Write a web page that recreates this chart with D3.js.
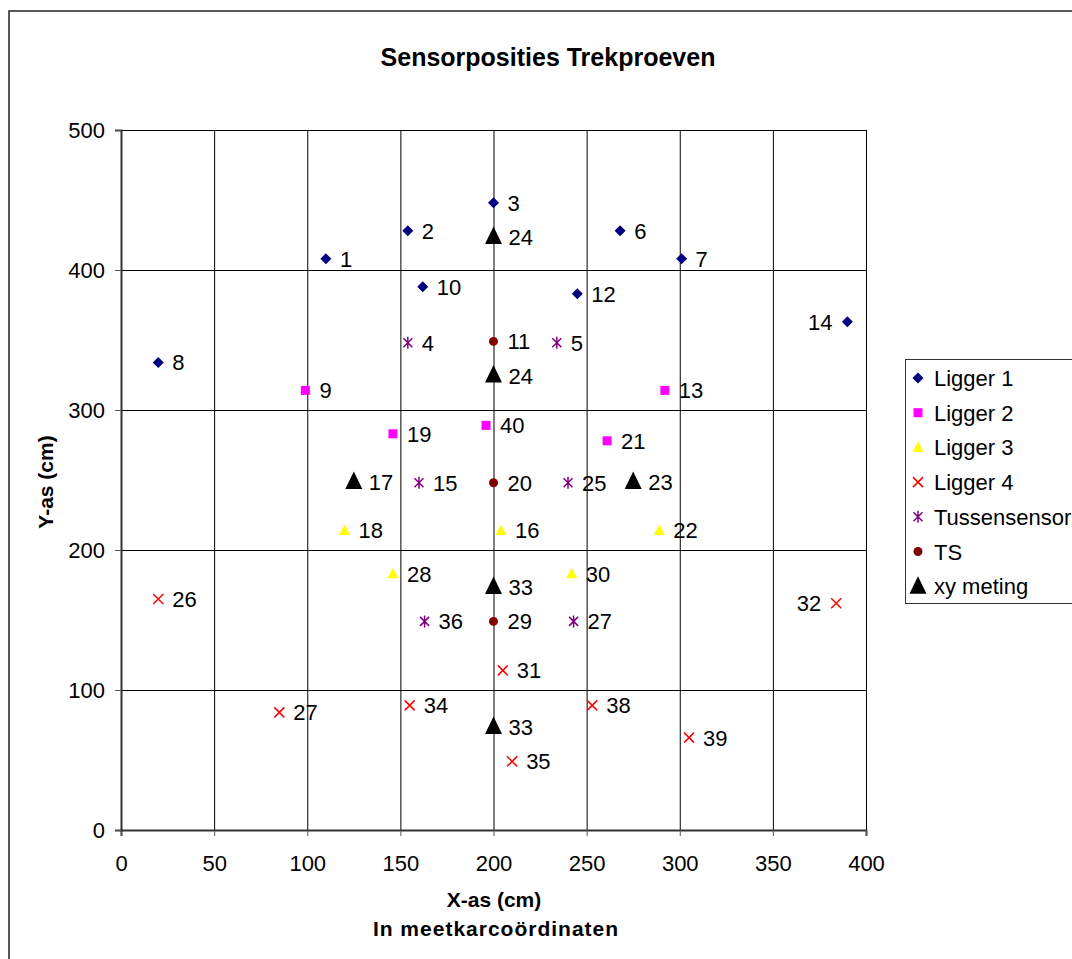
<!DOCTYPE html>
<html>
<head>
<meta charset="utf-8">
<script src="https://cdn.jsdelivr.net/npm/d3@7"></script>
<style>
  body { margin: 0; background: #fff; }
  svg { display: block; font-family: "Liberation Sans", Arial, sans-serif; }
</style>
</head>
<body>
<div id="chart"></div>
<script>
// Sensor positions per series: [x, y, label]
const ligger1 = [[110, 408, '1'], [154, 428, '2'], [200, 448, '3'], [268, 428, '6'], [301, 408, '7'],
                 [162, 388, '10'], [245, 383, '12'], [390, 363, '14'], [20, 334, '8']];
const ligger2 = [[99, 314, '9'], [292, 314, '13'], [146, 283, '19'], [196, 289, '40'], [261, 278, '21']];
const ligger3 = [[120, 214, '18'], [204, 214, '16'], [289, 214, '22'], [146, 183, '28'], [242, 183, '30']];
const ligger4 = [[20, 165, '26'], [384, 162, '32'], [205, 114, '31'], [85, 84, '27'], [155, 89, '34'],
                 [253, 89, '38'], [305, 66, '39'], [210, 49, '35']];
const tussen = [[154, 348, '4'], [234, 348, '5'], [160, 248, '15'], [240, 248, '25'], [163, 149, '36'], [243, 149, '27']];
const tsPoints = [[200, 349, '11'], [200, 248, '20'], [200, 149, '29']];
const xyMeting = [[200, 424, '24'], [200, 325, '24'], [125, 249, '17'], [275, 249, '23'], [200, 174, '33'], [200, 74, '33']];

// labels drawn on the left side of the marker
const leftLabels = ['14', '32'];

const xTicks = [0, 50, 100, 150, 200, 250, 300, 350, 400];
const yTicks = [0, 100, 200, 300, 400, 500];

const series = [
  { name: 'Ligger 1', data: ligger1, shape: 'diamond', color: '#000080' },
  { name: 'Ligger 2', data: ligger2, shape: 'square', color: '#ff00ff' },
  { name: 'Ligger 3', data: ligger3, shape: 'triangle', color: '#ffff00' },
  { name: 'Ligger 4', data: ligger4, shape: 'cross', color: '#ff0000' },
  { name: 'Tussensensor', data: tussen, shape: 'star', color: '#800080' },
  { name: 'TS', data: tsPoints, shape: 'circle', color: '#800000' },
  { name: 'xy meting', data: xyMeting, shape: 'bigTriangle', color: '#000000' }
];

const width = 1072, height = 959;
const svg = d3.select('#chart').append('svg')
  .attr('width', width).attr('height', height);

// outer chart border (runs off the right and bottom edges)
svg.append('rect')
  .attr('x', 9).attr('y', 11)
  .attr('width', 1200).attr('height', 1000)
  .attr('fill', 'none').attr('stroke', '#222').attr('stroke-width', 1.5);

const x = d3.scaleLinear().domain([0, 400]).range([121, 866]);
const y = d3.scaleLinear().domain([0, 500]).range([830, 130]);

// grid lines
const grid = svg.append('g');
grid.selectAll('.vg').data(xTicks.slice(1)).enter().append('line')
  .attr('x1', d => x(d) + 0.5).attr('x2', d => x(d) + 0.5)
  .attr('y1', y(500)).attr('y2', y(0))
  .attr('stroke', '#000').attr('stroke-width', 1);
grid.selectAll('.hg').data(yTicks.slice(1)).enter().append('line')
  .attr('x1', x(0)).attr('x2', x(400))
  .attr('y1', d => y(d) + 0.5).attr('y2', d => y(d) + 0.5)
  .attr('stroke', '#000').attr('stroke-width', 1);

// axes
const xAxis = svg.append('g')
  .attr('transform', `translate(0,${y(0)})`)
  .call(d3.axisBottom(x).tickValues(xTicks).tickSize(6).tickPadding(19));
const yAxis = svg.append('g')
  .attr('transform', `translate(${x(0)},0)`)
  .call(d3.axisLeft(y).tickValues(yTicks).tickSize(6).tickPadding(10));
[xAxis, yAxis].forEach(a => {
  a.select('.domain').attr('stroke', '#333').attr('stroke-width', 2);
  a.selectAll('.tick line').attr('stroke', '#555');
  a.selectAll('.tick text').attr('font-size', 22).attr('fill', '#000')
    .attr('font-family', '"Liberation Sans", Arial, sans-serif');
});

// titles
svg.append('text')
  .attr('x', 548).attr('y', 66).attr('text-anchor', 'middle')
  .attr('font-size', 25).attr('font-weight', 'bold')
  .text('Sensorposities Trekproeven');
svg.append('text')
  .attr('x', 494).attr('y', 907).attr('text-anchor', 'middle')
  .attr('font-size', 21).attr('font-weight', 'bold')
  .text('X-as (cm)');
svg.append('text')
  .attr('x', 496).attr('y', 936).attr('text-anchor', 'middle')
  .attr('font-size', 21).attr('font-weight', 'bold')
  .attr('letter-spacing', 1)
  .text('In meetkarcoördinaten');
svg.append('text')
  .attr('transform', 'translate(53,482) rotate(-90)')
  .attr('text-anchor', 'middle')
  .attr('font-size', 21).attr('font-weight', 'bold')
  .text('Y-as (cm)');

// marker drawing
function drawMarker(g, shape, color) {
  switch (shape) {
    case 'diamond':
      g.append('path').attr('d', 'M0,-5.5L5.5,0L0,5.5L-5.5,0Z').attr('fill', color);
      break;
    case 'square':
      g.append('rect').attr('x', -4.5).attr('y', -4.5).attr('width', 9).attr('height', 9).attr('fill', color);
      break;
    case 'triangle':
      g.append('path').attr('d', 'M0,-6L5.5,4.5L-5.5,4.5Z').attr('fill', color);
      break;
    case 'cross':
      g.append('path').attr('d', 'M-5,-5L5,5M5,-5L-5,5').attr('stroke', color).attr('stroke-width', 1.5);
      break;
    case 'star':
      g.append('path').attr('d', 'M-4.5,-4.5L4.5,4.5M4.5,-4.5L-4.5,4.5M0,-6L0,6').attr('stroke', color).attr('stroke-width', 1.5);
      break;
    case 'circle':
      g.append('circle').attr('r', 4.5).attr('fill', color);
      break;
    case 'bigTriangle':
      g.append('path').attr('d', 'M0,-10L8.5,7.5L-8.5,7.5Z').attr('fill', color);
      break;
  }
}

// points + labels
series.forEach(s => {
  const pts = svg.append('g').selectAll('g').data(s.data).enter().append('g')
    .attr('transform', d => `translate(${x(d[0])},${y(d[1])})`);
  pts.each(function () { drawMarker(d3.select(this), s.shape, s.color); });
  pts.append('text')
    .attr('x', d => leftLabels.includes(d[2]) ? -15 : (s.shape === 'bigTriangle' ? 15 : 14))
    .attr('y', s.shape === 'bigTriangle' ? 8.5 : 8)
    .attr('text-anchor', d => leftLabels.includes(d[2]) ? 'end' : 'start')
    .attr('font-size', 22)
    .text(d => d[2]);
});

// legend
const legend = svg.append('g');
legend.append('rect')
  .attr('x', 905.5).attr('y', 359.5).attr('width', 200).attr('height', 244)
  .attr('fill', '#fff').attr('stroke', '#333').attr('stroke-width', 1);
const items = legend.selectAll('.item').data(series).enter().append('g')
  .attr('transform', (d, i) => `translate(918,${378 + i * 34.7})`);
items.each(function (d) { drawMarker(d3.select(this), d.shape, d.color); });
items.append('text')
  .attr('x', 16).attr('y', 8).attr('font-size', 22)
  .text(d => d.name);
</script>
</body>
</html>
